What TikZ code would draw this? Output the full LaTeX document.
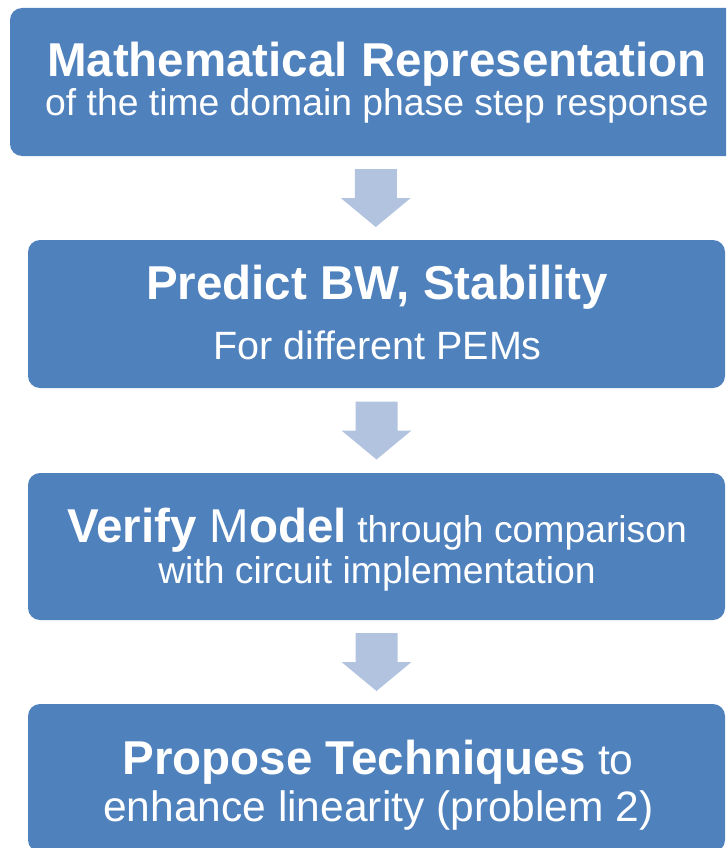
\documentclass[tikz,border=0pt]{standalone}
\usepackage{fontspec}
\setmainfont{Liberation Sans}
\usetikzlibrary{calc}
\definecolor{boxblue}{HTML}{4F81BD}
\definecolor{arrblue}{HTML}{B2C3DF}
\tikzset{
  flowbox/.style={fill=boxblue, draw=none, rounded corners=12pt, inner sep=0pt},
  lbl/.style={text=white, anchor=base, inner sep=0pt},
  arr/.style={fill=arrblue, draw=none},
}
\newcommand{\fbigb}{\fontsize{47.5}{57}\selectfont\bfseries}
\newcommand{\fbigr}{\fontsize{47.5}{57}\selectfont\mdseries}
\newcommand{\fsmr}[1]{\fontsize{#1}{#1}\selectfont\mdseries}
\begin{document}
\begin{tikzpicture}[x=1pt,y=-1pt]
\useasboundingbox (0,0) rectangle (726,848);
\clip (0,0) rectangle (726,848);
% boxes
\node[flowbox, minimum width=730pt, minimum height=148pt] (b1) at (375,82) {};
\node[flowbox, minimum width=697pt, minimum height=148pt] (b2) at (376.5,314) {};
\node[flowbox, minimum width=697pt, minimum height=147pt] (b3) at (376.5,546.5) {};
\node[flowbox, minimum width=697pt, minimum height=148pt] (b4) at (376.5,778) {};
% labels
\node[lbl] (t1a) at (377,77) {\fbigb Mathematical Representation};
\node[lbl] (t1b) at (377,116) {\fsmr{37.3}of the time domain phase step response};
\node[lbl] (t2a) at (377,299) {\fbigb Predict BW, Stability};
\node[lbl] (t2b) at (377.5,359) {\fsmr{39.5}For different PEMs};
\node[lbl] (t3a) at (377,542) {\fbigb Verify \fbigr M\fbigb odel\fsmr{37.3} through comparison};
\node[lbl] (t3b) at (377,583) {\fsmr{37.3}with circuit implementation};
\node[lbl] (t4a) at (378,774) {\fbigb Propose Techniques\fsmr{42.5} to};
\node[lbl] (t4b) at (378.5,821) {\fsmr{42.5}enhance linearity (problem 2)};
% arrows
\foreach \u/\v [count=\i] in {b1/b2,b2/b3,b3/b4}{
  \coordinate (m\i) at ($(\u.south)!0.5!(\v.north)$);
  \fill[arr] ($(m\i)+(-21,-29)$) -- ($(m\i)+(21,-29)$) -- ($(m\i)+(21,0)$) -- ($(m\i)+(35,0)$)
     -- ($(m\i)+(0,29)$) -- ($(m\i)+(-35,0)$) -- ($(m\i)+(-21,0)$) -- cycle;
}
\end{tikzpicture}
\end{document}
